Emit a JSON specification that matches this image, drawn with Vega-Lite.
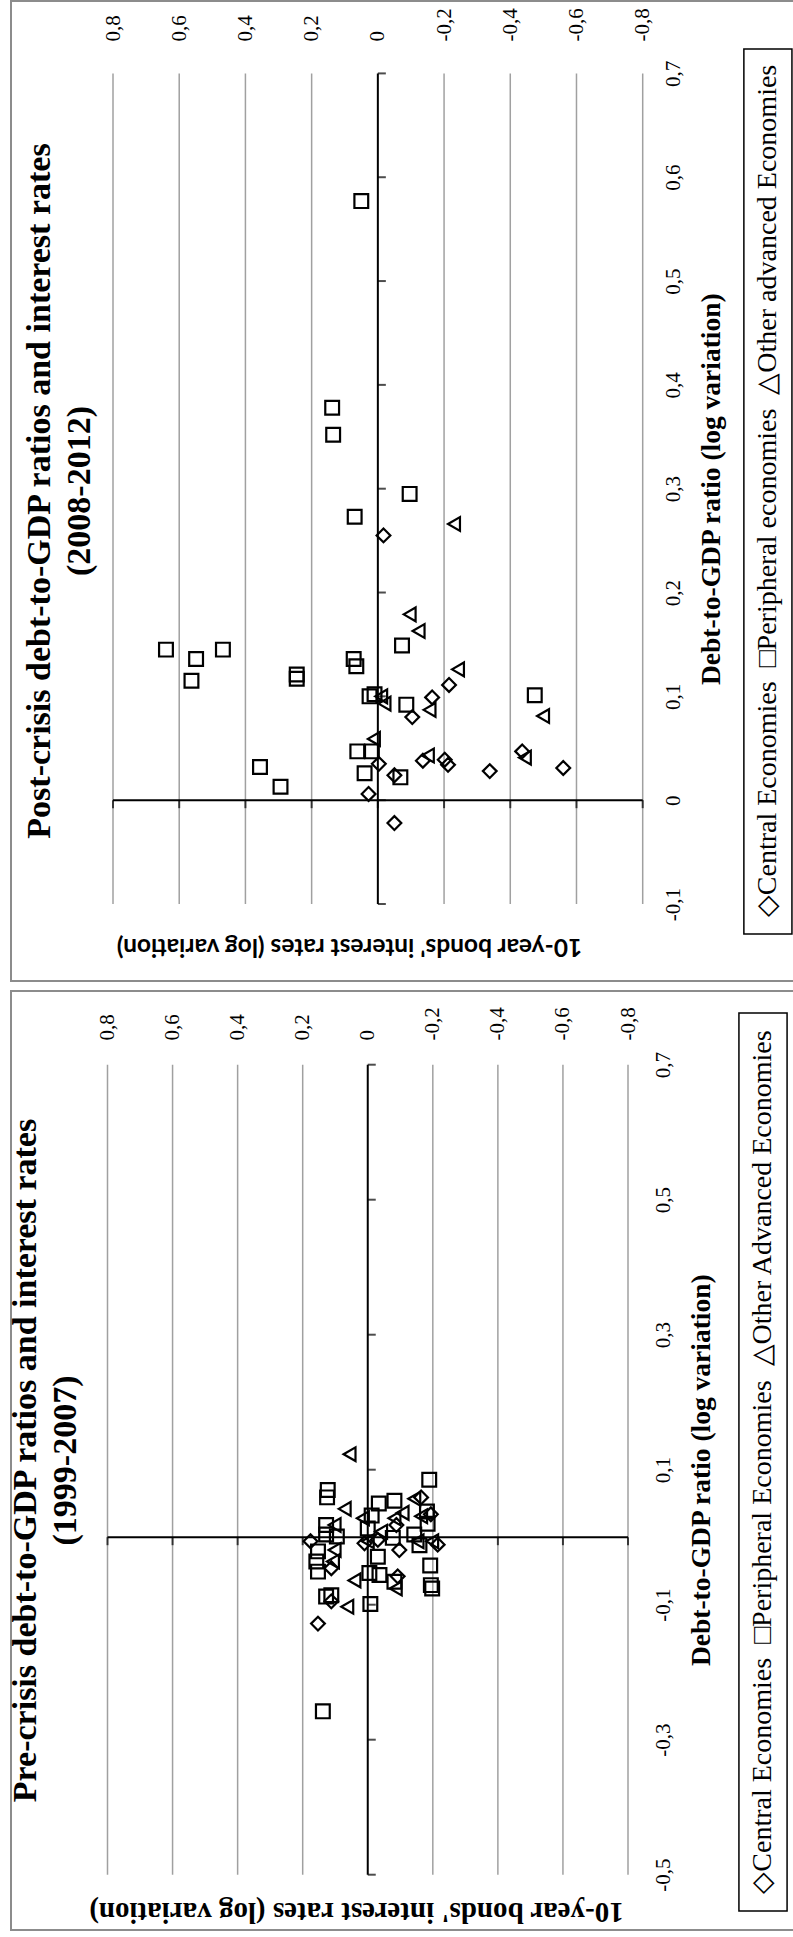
{
  "$schema": "https://vega.github.io/schema/vega-lite/v6.json",
  "padding": {"left": 7, "top": 0, "right": 0, "bottom": 10},
  "spacing": 8,
  "config": {
    "view": {"stroke": "#8c8c8c", "strokeWidth": 2},
    "font": "Liberation Serif",
    "axis": {"labelColor": "black", "titleColor": "black"}
  },
  "datasets": {
    "post": [
      {"group": "Peripheral economies", "rate": 0.05, "debt": 0.577},
      {"group": "Peripheral economies", "rate": 0.138, "debt": 0.378},
      {"group": "Peripheral economies", "rate": 0.135, "debt": 0.352},
      {"group": "Peripheral economies", "rate": -0.096, "debt": 0.295},
      {"group": "Peripheral economies", "rate": 0.07, "debt": 0.273},
      {"group": "Peripheral economies", "rate": 0.64, "debt": 0.145},
      {"group": "Peripheral economies", "rate": 0.549, "debt": 0.136},
      {"group": "Peripheral economies", "rate": 0.468, "debt": 0.145},
      {"group": "Peripheral economies", "rate": 0.563, "debt": 0.115},
      {"group": "Peripheral economies", "rate": 0.245, "debt": 0.121},
      {"group": "Peripheral economies", "rate": 0.245, "debt": 0.117},
      {"group": "Peripheral economies", "rate": 0.073, "debt": 0.136},
      {"group": "Peripheral economies", "rate": 0.065, "debt": 0.129},
      {"group": "Peripheral economies", "rate": -0.073, "debt": 0.149},
      {"group": "Peripheral economies", "rate": 0.025, "debt": 0.1},
      {"group": "Peripheral economies", "rate": 0.01, "debt": 0.102},
      {"group": "Peripheral economies", "rate": -0.086, "debt": 0.092},
      {"group": "Peripheral economies", "rate": 0.062, "debt": 0.047},
      {"group": "Peripheral economies", "rate": 0.018, "debt": 0.047},
      {"group": "Peripheral economies", "rate": 0.356, "debt": 0.032},
      {"group": "Peripheral economies", "rate": 0.294, "debt": 0.013},
      {"group": "Peripheral economies", "rate": 0.04, "debt": 0.026},
      {"group": "Peripheral economies", "rate": -0.068, "debt": 0.022},
      {"group": "Peripheral economies", "rate": -0.474, "debt": 0.101},
      {"group": "Central Economies", "rate": -0.017, "debt": 0.255},
      {"group": "Central Economies", "rate": -0.164, "debt": 0.099},
      {"group": "Central Economies", "rate": -0.104, "debt": 0.08},
      {"group": "Central Economies", "rate": -0.215, "debt": 0.111},
      {"group": "Central Economies", "rate": -0.003, "debt": 0.035},
      {"group": "Central Economies", "rate": -0.05, "debt": 0.024},
      {"group": "Central Economies", "rate": 0.028, "debt": 0.006},
      {"group": "Central Economies", "rate": -0.05, "debt": -0.022},
      {"group": "Central Economies", "rate": -0.136, "debt": 0.038},
      {"group": "Central Economies", "rate": -0.202, "debt": 0.039},
      {"group": "Central Economies", "rate": -0.212, "debt": 0.034},
      {"group": "Central Economies", "rate": -0.338, "debt": 0.028},
      {"group": "Central Economies", "rate": -0.436, "debt": 0.047},
      {"group": "Central Economies", "rate": -0.56, "debt": 0.031},
      {"group": "Other advanced Economies", "rate": -0.23, "debt": 0.266},
      {"group": "Other advanced Economies", "rate": -0.096, "debt": 0.179},
      {"group": "Other advanced Economies", "rate": -0.123, "debt": 0.163},
      {"group": "Other advanced Economies", "rate": -0.242, "debt": 0.126},
      {"group": "Other advanced Economies", "rate": -0.01, "debt": 0.1},
      {"group": "Other advanced Economies", "rate": -0.02, "debt": 0.093},
      {"group": "Other advanced Economies", "rate": -0.156, "debt": 0.087},
      {"group": "Other advanced Economies", "rate": 0.012, "debt": 0.059},
      {"group": "Other advanced Economies", "rate": -0.151, "debt": 0.043},
      {"group": "Other advanced Economies", "rate": -0.499, "debt": 0.081},
      {"group": "Other advanced Economies", "rate": -0.444, "debt": 0.041}
    ],
    "pre": [
      {"group": "Central Economies", "rate": -0.164, "debt": 0.059},
      {"group": "Central Economies", "rate": -0.194, "debt": 0.034},
      {"group": "Central Economies", "rate": 0.176, "debt": -0.006},
      {"group": "Central Economies", "rate": 0.01, "debt": -0.009},
      {"group": "Central Economies", "rate": -0.031, "debt": -0.004},
      {"group": "Central Economies", "rate": -0.088, "debt": 0.018},
      {"group": "Central Economies", "rate": -0.097, "debt": -0.019},
      {"group": "Central Economies", "rate": -0.215, "debt": -0.011},
      {"group": "Central Economies", "rate": 0.112, "debt": -0.046},
      {"group": "Central Economies", "rate": -0.092, "debt": -0.058},
      {"group": "Central Economies", "rate": 0.112, "debt": -0.095},
      {"group": "Central Economies", "rate": 0.153, "debt": -0.128},
      {"group": "Peripheral economies", "rate": -0.189, "debt": 0.085},
      {"group": "Peripheral economies", "rate": 0.123, "debt": 0.07},
      {"group": "Peripheral economies", "rate": 0.125, "debt": 0.059},
      {"group": "Peripheral economies", "rate": -0.034, "debt": 0.05},
      {"group": "Peripheral economies", "rate": -0.082, "debt": 0.054},
      {"group": "Peripheral economies", "rate": -0.012, "debt": 0.032},
      {"group": "Peripheral economies", "rate": -0.182, "debt": 0.038},
      {"group": "Peripheral economies", "rate": -0.184, "debt": 0.02},
      {"group": "Peripheral economies", "rate": 0.128, "debt": 0.018},
      {"group": "Peripheral economies", "rate": 0.128, "debt": 0.004},
      {"group": "Peripheral economies", "rate": 0.095, "debt": 0.001},
      {"group": "Peripheral economies", "rate": 0.0, "debt": 0.013},
      {"group": "Peripheral economies", "rate": -0.077, "debt": -0.001},
      {"group": "Peripheral economies", "rate": -0.143, "debt": 0.004},
      {"group": "Peripheral economies", "rate": -0.159, "debt": -0.012},
      {"group": "Peripheral economies", "rate": 0.153, "debt": -0.021},
      {"group": "Peripheral economies", "rate": 0.158, "debt": -0.036},
      {"group": "Peripheral economies", "rate": 0.153, "debt": -0.051},
      {"group": "Peripheral economies", "rate": -0.031, "debt": -0.029},
      {"group": "Peripheral economies", "rate": -0.005, "debt": -0.053},
      {"group": "Peripheral economies", "rate": -0.036, "debt": -0.056},
      {"group": "Peripheral economies", "rate": -0.082, "debt": -0.066},
      {"group": "Peripheral economies", "rate": -0.192, "debt": -0.042},
      {"group": "Peripheral economies", "rate": -0.194, "debt": -0.071},
      {"group": "Peripheral economies", "rate": -0.198, "debt": -0.076},
      {"group": "Peripheral economies", "rate": 0.128, "debt": -0.088},
      {"group": "Peripheral economies", "rate": 0.112, "debt": -0.086},
      {"group": "Peripheral economies", "rate": -0.008, "debt": -0.099},
      {"group": "Peripheral economies", "rate": 0.138, "debt": -0.258},
      {"group": "Other advanced Economies", "rate": 0.056, "debt": 0.123},
      {"group": "Other advanced Economies", "rate": 0.071, "debt": 0.042},
      {"group": "Other advanced Economies", "rate": 0.015, "debt": 0.028},
      {"group": "Other advanced Economies", "rate": 0.102, "debt": 0.018},
      {"group": "Other advanced Economies", "rate": 0.102, "debt": -0.019},
      {"group": "Other advanced Economies", "rate": 0.107, "debt": -0.036},
      {"group": "Other advanced Economies", "rate": 0.041, "debt": -0.064},
      {"group": "Other advanced Economies", "rate": 0.063, "debt": -0.103},
      {"group": "Other advanced Economies", "rate": -0.086, "debt": -0.076},
      {"group": "Other advanced Economies", "rate": -0.143, "debt": 0.057},
      {"group": "Other advanced Economies", "rate": -0.107, "debt": 0.036},
      {"group": "Other advanced Economies", "rate": -0.082, "debt": 0.028},
      {"group": "Other advanced Economies", "rate": -0.041, "debt": 0.008},
      {"group": "Other advanced Economies", "rate": 0.0, "debt": -0.006},
      {"group": "Other advanced Economies", "rate": -0.164, "debt": 0.031},
      {"group": "Other advanced Economies", "rate": -0.198, "debt": -0.006},
      {"group": "Other advanced Economies", "rate": -0.153, "debt": -0.006}
    ],
    "gridX": [{"v": -0.8}, {"v": -0.6}, {"v": -0.4}, {"v": -0.2}, {"v": 0.2}, {"v": 0.4}, {"v": 0.6}, {"v": 0.8}],
    "tickX": [{"v": -0.8}, {"v": -0.6}, {"v": -0.4}, {"v": -0.2}, {"v": 0}, {"v": 0.2}, {"v": 0.4}, {"v": 0.6}, {"v": 0.8}],
    "tickPost": [{"v": -0.1}, {"v": 0}, {"v": 0.1}, {"v": 0.2}, {"v": 0.3}, {"v": 0.4}, {"v": 0.5}, {"v": 0.6}, {"v": 0.7}],
    "tickPre": [{"v": -0.5}, {"v": -0.3}, {"v": -0.1}, {"v": 0.1}, {"v": 0.3}, {"v": 0.5}, {"v": 0.7}],
    "legendPost": [{"label": "◇Central Economies \u00a0□Peripheral economies \u00a0△Other advanced Economies"}],
    "legendPre": [{"label": "◇Central Economies \u00a0□Peripheral Economies \u00a0△Other Advanced Economies"}]
  },
  "vconcat": [
    {
      "width": 786,
      "height": 980,
      "title": {
        "text": ["Post-crisis debt-to-GDP ratios and interest rates", "(2008-2012)"],
        "orient": "left",
        "anchor": "middle",
        "frame": "group",
        "baseline": "bottom",
        "offset": -120,
        "font": "Liberation Serif",
        "fontSize": 34,
        "fontWeight": "bold",
        "lineHeight": 40,
        "color": "black"
      },
      "resolve": {"axis": {"x": "independent", "y": "independent"}},
      "layer": [
        {
          "data": {"name": "gridX"},
          "mark": {"type": "rule", "color": "#a0a0a0", "strokeWidth": 1.5},
          "encoding": {
            "x": {
              "field": "v", "type": "quantitative",
              "scale": {"domain": [-0.8, 0.8], "range": [631.7, 102], "nice": false, "zero": false},
              "axis": {
                "orient": "bottom", "labels": false, "ticks": false, "tickSize": 0, "domain": false, "grid": false,
                "offset": -36, "title": "10-year bonds' interest rates (log variation)",
                "titleAngle": 180, "titleBaseline": "middle", "titlePadding": 0, "titleX": 338,
                "titleFont": "Lato", "titleFontSize": 24.5, "titleFontWeight": "bold"
              }
            },
            "y": {"datum": -0.1, "type": "quantitative", "scale": {"domain": [-0.1, 0.7], "range": [903, 72.4], "nice": false, "zero": false}, "axis": null},
            "y2": {"datum": 0.7}
          }
        },
        {
          "data": {"name": "tickX"},
          "mark": {"type": "tick", "orient": "vertical", "size": 8, "thickness": 2, "yOffset": 4, "color": "black"},
          "encoding": {
            "x": {"field": "v", "type": "quantitative", "scale": {"domain": [-0.8, 0.8], "range": [631.7, 102], "nice": false, "zero": false}, "axis": null},
            "y": {"datum": 0, "type": "quantitative", "scale": {"domain": [-0.1, 0.7], "range": [903, 72.4], "nice": false, "zero": false}, "axis": null}
          }
        },
        {
          "data": {"name": "tickPost"},
          "mark": {"type": "tick", "orient": "horizontal", "size": 8, "thickness": 2, "xOffset": 4, "color": "black"},
          "encoding": {
            "x": {"datum": 0, "type": "quantitative", "scale": {"domain": [-0.8, 0.8], "range": [631.7, 102], "nice": false, "zero": false}, "axis": null},
            "y": {"field": "v", "type": "quantitative", "scale": {"domain": [-0.1, 0.7], "range": [903, 72.4], "nice": false, "zero": false}, "axis": null}
          }
        },
        {
          "data": {"name": "legendPost"},
          "mark": {"type": "rule", "color": "black", "strokeWidth": 2},
          "encoding": {
            "x": {"datum": -0.8, "type": "quantitative", "scale": {"domain": [-0.8, 0.8], "range": [631.7, 102], "nice": false, "zero": false}, "axis": null},
            "x2": {"datum": 0.8},
            "y": {"datum": 0, "type": "quantitative", "scale": {"domain": [-0.1, 0.7], "range": [903, 72.4], "nice": false, "zero": false}, "axis": null}
          }
        },
        {
          "data": {"name": "legendPost"},
          "mark": {"type": "rule", "color": "black", "strokeWidth": 2},
          "encoding": {
            "x": {"datum": 0, "type": "quantitative", "scale": {"domain": [-0.8, 0.8], "range": [631.7, 102], "nice": false, "zero": false}, "axis": null},
            "y": {"datum": -0.1, "type": "quantitative", "scale": {"domain": [-0.1, 0.7], "range": [903, 72.4], "nice": false, "zero": false}, "axis": null},
            "y2": {"datum": 0.7}
          }
        },
        {
          "data": {"name": "post"},
          "mark": {"type": "point", "filled": false, "stroke": "black", "strokeWidth": 2.2, "size": 190, "opacity": 1},
          "encoding": {
            "x": {
              "field": "rate", "type": "quantitative",
              "scale": {"domain": [-0.8, 0.8], "range": [631.7, 102], "nice": false, "zero": false},
              "axis": {
                "orient": "top", "values": [-0.8, -0.6, -0.4, -0.2, 0, 0.2, 0.4, 0.6, 0.8],
                "labelExpr": "datum.value == 0 ? '0' : (datum.value < 0 ? '-' : '') + '0,' + round(abs(datum.value) * 10)",
                "labelAngle": 270, "labelAlign": "left", "labelBaseline": "middle", "labelPadding": 2,
                "labelFlush": false, "labelOverlap": false, "labelFont": "Liberation Serif", "labelFontSize": 21,
                "ticks": false, "tickSize": 0, "domain": false, "grid": false, "offset": -42, "title": null
              }
            },
            "y": {
              "field": "debt", "type": "quantitative",
              "scale": {"domain": [-0.1, 0.7], "range": [903, 72.4], "nice": false, "zero": false},
              "axis": {
                "orient": "right", "values": [-0.1, 0, 0.1, 0.2, 0.3, 0.4, 0.5, 0.6, 0.7],
                "labelExpr": "datum.value == 0 ? '0' : (datum.value < 0 ? '-' : '') + '0,' + round(abs(datum.value) * 10)",
                "labelAngle": 270, "labelAlign": "center", "labelBaseline": "middle", "labelPadding": 0,
                "labelFlush": false, "labelOverlap": false, "labelFont": "Liberation Serif", "labelFontSize": 21,
                "ticks": false, "tickSize": 0, "domain": false, "grid": false, "offset": -124,
                "title": "Debt-to-GDP ratio (log variation)", "titleAngle": 270, "titleBaseline": "top", "titlePadding": 14,
                "titleFont": "Liberation Serif", "titleFontSize": 27.5, "titleFontWeight": "bold"
              }
            },
            "shape": {
              "field": "group", "type": "nominal",
              "scale": {"domain": ["Central Economies", "Peripheral economies", "Other advanced Economies"], "range": ["diamond", "square", "triangle-left"]},
              "legend": null
            }
          }
        },
        {
          "data": {"name": "legendPost"},
          "mark": {"type": "rect", "fill": "transparent", "stroke": "black", "strokeWidth": 1.5},
          "encoding": {
            "x": {"datum": -1.1056, "type": "quantitative", "scale": {"domain": [-0.8, 0.8], "range": [631.7, 102], "nice": false, "zero": false}, "axis": null},
            "x2": {"datum": -1.2508},
            "y": {"datum": 0.7235, "type": "quantitative", "scale": {"domain": [-0.1, 0.7], "range": [903, 72.4], "nice": false, "zero": false}, "axis": null},
            "y2": {"datum": -0.1289}
          }
        },
        {
          "data": {"name": "legendPost"},
          "mark": {"type": "text", "angle": 270, "align": "center", "baseline": "middle", "font": "Liberation Serif", "fontSize": 28, "color": "black"},
          "encoding": {
            "x": {"datum": -1.178, "type": "quantitative", "scale": {"domain": [-0.8, 0.8], "range": [631.7, 102], "nice": false, "zero": false}, "axis": null},
            "y": {"datum": 0.2978, "type": "quantitative", "scale": {"domain": [-0.1, 0.7], "range": [903, 72.4], "nice": false, "zero": false}, "axis": null},
            "text": {"field": "label"}
          }
        }
      ]
    },
    {
      "width": 786,
      "height": 939,
      "title": {
        "text": ["Pre-crisis debt-to-GDP ratios and interest rates", "(1999-2007)"],
        "orient": "left",
        "anchor": "middle",
        "frame": "group",
        "baseline": "bottom",
        "offset": -106,
        "font": "Liberation Serif",
        "fontSize": 34,
        "fontWeight": "bold",
        "lineHeight": 40,
        "color": "black"
      },
      "resolve": {"axis": {"x": "independent", "y": "independent"}},
      "layer": [
        {
          "data": {"name": "gridX"},
          "mark": {"type": "rule", "color": "#a0a0a0", "strokeWidth": 1.5},
          "encoding": {
            "x": {
              "field": "v", "type": "quantitative",
              "scale": {"domain": [-0.8, 0.8], "range": [617, 96.5], "nice": false, "zero": false},
              "axis": {
                "orient": "bottom", "labels": false, "ticks": false, "tickSize": 0, "domain": false, "grid": false,
                "offset": -19, "title": "10-year bonds' interest rates (log variation)",
                "titleAngle": 180, "titleBaseline": "middle", "titlePadding": 0, "titleX": 345,
                "titleFont": "Liberation Serif", "titleFontSize": 29, "titleFontWeight": "bold"
              }
            },
            "y": {"datum": -0.5, "type": "quantitative", "scale": {"domain": [-0.5, 0.7], "range": [883.7, 73.7], "nice": false, "zero": false}, "axis": null},
            "y2": {"datum": 0.7}
          }
        },
        {
          "data": {"name": "tickX"},
          "mark": {"type": "tick", "orient": "vertical", "size": 8, "thickness": 2, "yOffset": 4, "color": "black"},
          "encoding": {
            "x": {"field": "v", "type": "quantitative", "scale": {"domain": [-0.8, 0.8], "range": [617, 96.5], "nice": false, "zero": false}, "axis": null},
            "y": {"datum": 0, "type": "quantitative", "scale": {"domain": [-0.5, 0.7], "range": [883.7, 73.7], "nice": false, "zero": false}, "axis": null}
          }
        },
        {
          "data": {"name": "tickPre"},
          "mark": {"type": "tick", "orient": "horizontal", "size": 8, "thickness": 2, "xOffset": 4, "color": "black"},
          "encoding": {
            "x": {"datum": 0, "type": "quantitative", "scale": {"domain": [-0.8, 0.8], "range": [617, 96.5], "nice": false, "zero": false}, "axis": null},
            "y": {"field": "v", "type": "quantitative", "scale": {"domain": [-0.5, 0.7], "range": [883.7, 73.7], "nice": false, "zero": false}, "axis": null}
          }
        },
        {
          "data": {"name": "legendPre"},
          "mark": {"type": "rule", "color": "black", "strokeWidth": 2},
          "encoding": {
            "x": {"datum": -0.8, "type": "quantitative", "scale": {"domain": [-0.8, 0.8], "range": [617, 96.5], "nice": false, "zero": false}, "axis": null},
            "x2": {"datum": 0.8},
            "y": {"datum": 0, "type": "quantitative", "scale": {"domain": [-0.5, 0.7], "range": [883.7, 73.7], "nice": false, "zero": false}, "axis": null}
          }
        },
        {
          "data": {"name": "legendPre"},
          "mark": {"type": "rule", "color": "black", "strokeWidth": 2},
          "encoding": {
            "x": {"datum": 0, "type": "quantitative", "scale": {"domain": [-0.8, 0.8], "range": [617, 96.5], "nice": false, "zero": false}, "axis": null},
            "y": {"datum": -0.5, "type": "quantitative", "scale": {"domain": [-0.5, 0.7], "range": [883.7, 73.7], "nice": false, "zero": false}, "axis": null},
            "y2": {"datum": 0.7}
          }
        },
        {
          "data": {"name": "pre"},
          "mark": {"type": "point", "filled": false, "stroke": "black", "strokeWidth": 2.2, "size": 190, "opacity": 1},
          "encoding": {
            "x": {
              "field": "rate", "type": "quantitative",
              "scale": {"domain": [-0.8, 0.8], "range": [617, 96.5], "nice": false, "zero": false},
              "axis": {
                "orient": "top", "values": [-0.8, -0.6, -0.4, -0.2, 0, 0.2, 0.4, 0.6, 0.8],
                "labelExpr": "datum.value == 0 ? '0' : (datum.value < 0 ? '-' : '') + '0,' + round(abs(datum.value) * 10)",
                "labelAngle": 270, "labelAlign": "left", "labelBaseline": "middle", "labelPadding": 2,
                "labelFlush": false, "labelOverlap": false, "labelFont": "Liberation Serif", "labelFontSize": 21,
                "ticks": false, "tickSize": 0, "domain": false, "grid": false, "offset": -51, "title": null
              }
            },
            "y": {
              "field": "debt", "type": "quantitative",
              "scale": {"domain": [-0.5, 0.7], "range": [883.7, 73.7], "nice": false, "zero": false},
              "axis": {
                "orient": "right", "values": [-0.5, -0.3, -0.1, 0.1, 0.3, 0.5, 0.7],
                "labelExpr": "datum.value == 0 ? '0' : (datum.value < 0 ? '-' : '') + '0,' + round(abs(datum.value) * 10)",
                "labelAngle": 270, "labelAlign": "center", "labelBaseline": "middle", "labelPadding": 0,
                "labelFlush": false, "labelOverlap": false, "labelFont": "Liberation Serif", "labelFontSize": 21,
                "ticks": false, "tickSize": 0, "domain": false, "grid": false, "offset": -134,
                "title": "Debt-to-GDP ratio (log variation)", "titleAngle": 270, "titleBaseline": "top", "titlePadding": 14,
                "titleFont": "Liberation Serif", "titleFontSize": 27.5, "titleFontWeight": "bold"
              }
            },
            "shape": {
              "field": "group", "type": "nominal",
              "scale": {"domain": ["Central Economies", "Peripheral economies", "Other advanced Economies"], "range": ["diamond", "square", "triangle-left"]},
              "legend": null
            }
          }
        },
        {
          "data": {"name": "legendPre"},
          "mark": {"type": "rect", "fill": "transparent", "stroke": "black", "strokeWidth": 1.5},
          "encoding": {
            "x": {"datum": -1.141, "type": "quantitative", "scale": {"domain": [-0.8, 0.8], "range": [617, 96.5], "nice": false, "zero": false}, "axis": null},
            "x2": {"datum": -1.289},
            "y": {"datum": 0.7766, "type": "quantitative", "scale": {"domain": [-0.5, 0.7], "range": [883.7, 73.7], "nice": false, "zero": false}, "axis": null},
            "y2": {"datum": -0.5538}
          }
        },
        {
          "data": {"name": "legendPre"},
          "mark": {"type": "text", "angle": 270, "align": "center", "baseline": "middle", "font": "Liberation Serif", "fontSize": 28, "color": "black"},
          "encoding": {
            "x": {"datum": -1.215, "type": "quantitative", "scale": {"domain": [-0.8, 0.8], "range": [617, 96.5], "nice": false, "zero": false}, "axis": null},
            "y": {"datum": 0.1114, "type": "quantitative", "scale": {"domain": [-0.5, 0.7], "range": [883.7, 73.7], "nice": false, "zero": false}, "axis": null},
            "text": {"field": "label"}
          }
        }
      ]
    }
  ]
}
